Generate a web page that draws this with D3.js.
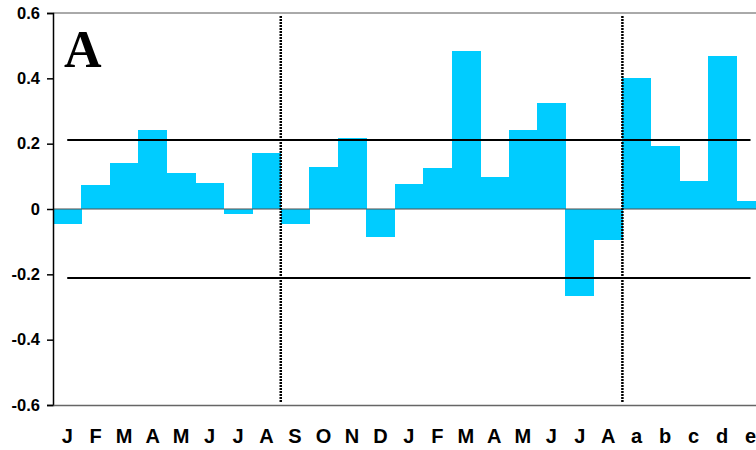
<!DOCTYPE html>
<html>
<head>
<meta charset="utf-8">
<script src="https://cdn.jsdelivr.net/npm/d3@7"></script>
<style>
  html, body { margin: 0; padding: 0; background: #fff; }
  svg { display: block; }
</style>
</head>
<body>
<svg id="chart" width="756" height="450"></svg>
<script>
// Monthly anomalies, three periods separated by dotted lines
const categories = ["J","F","M","A","M","J","J","A","S","O","N","D",
                    "J","F","M","A","M","J","J","A","a","b","c","d","e"];
const values = [-0.045, 0.074, 0.141, 0.242, 0.110, 0.080, -0.015, 0.171,
                -0.045, 0.129, 0.217, -0.085, 0.077, 0.126, 0.484, 0.098,
                0.242, 0.325, -0.265, -0.094, 0.401, 0.193, 0.086, 0.469, 0.025];
const yTicks = [-0.6, -0.4, -0.2, 0, 0.2, 0.4, 0.6];
const thresholds = [0.211, -0.211];
const dividers = [8, 20]; // category index where a new period starts
const panelLabel = "A";

const svg = d3.select("#chart");
const plotLeft = 53, plotTop = 13, plotBottom = 405;
const step = 28.47;
const plotRight = plotLeft + step * categories.length;

const x = d3.scaleBand()
  .domain(d3.range(categories.length))
  .range([plotLeft, plotRight])
  .paddingInner(0).paddingOuter(0);

const y = d3.scaleLinear().domain([-0.6, 0.6]).range([plotBottom, plotTop]);

// top frame line
svg.append("line")
  .attr("x1", plotLeft).attr("x2", plotRight)
  .attr("y1", plotTop).attr("y2", plotTop)
  .attr("stroke", "#555").attr("stroke-width", 1);

// bars
svg.append("g").attr("shape-rendering", "crispEdges").selectAll("rect")
  .data(values)
  .join("rect")
  .attr("x", (d, i) => x(i))
  .attr("width", x.bandwidth() + 0.5)
  .attr("y", d => y(Math.max(0, d)))
  .attr("height", d => Math.abs(y(d) - y(0)))
  .attr("fill", "#00ccff");

// zero line
svg.append("line")
  .attr("x1", plotLeft).attr("x2", plotRight)
  .attr("y1", y(0)).attr("y2", y(0))
  .attr("stroke", "#555").attr("stroke-opacity", 0.7).attr("stroke-width", 1.5);

// significance thresholds, centre of first to centre of last category
svg.append("g").selectAll("line")
  .data(thresholds)
  .join("line")
  .attr("x1", x(0) + x.bandwidth() / 2)
  .attr("x2", x(categories.length - 1) + x.bandwidth() / 2)
  .attr("y1", d => y(d)).attr("y2", d => y(d))
  .attr("stroke", "#000").attr("stroke-width", 2);

// period dividers
svg.append("g").selectAll("line")
  .data(dividers)
  .join("line")
  .attr("x1", d => x(d)).attr("x2", d => x(d))
  .attr("y1", plotTop + 3).attr("y2", plotBottom - 3)
  .attr("stroke", "#000").attr("stroke-width", 2.5)
  .attr("stroke-dasharray", "2,1");

// y axis
const yAxis = d3.axisLeft(y)
  .tickValues(yTicks)
  .tickSize(6)
  .tickFormat(d => d === 0 ? "0" : d.toFixed(1));
const gy = svg.append("g").attr("transform", `translate(${plotLeft},0)`).call(yAxis);
gy.select(".domain").attr("stroke", "#000").attr("stroke-width", 1.5);
gy.selectAll(".tick line").attr("stroke", "#000").attr("stroke-width", 1.5);
gy.selectAll(".tick text")
  .attr("x", -13)
  .attr("font-family", "Liberation Sans, Arial, sans-serif")
  .attr("font-weight", "bold")
  .attr("font-size", "16.5px")
  .attr("fill", "#000");

// x axis
const xAxis = d3.axisBottom(x).tickSize(0).tickFormat(i => categories[i]);
const gx = svg.append("g").attr("transform", `translate(0,${plotBottom})`).call(xAxis);
gx.select(".domain").attr("stroke", "#666").attr("stroke-width", 1.5);
gx.selectAll(".tick text")
  .attr("y", 24)
  .attr("font-family", "Liberation Sans, Arial, sans-serif")
  .attr("font-weight", "bold")
  .attr("font-size", "20px")
  .attr("fill", "#000");

// panel letter
svg.append("text")
  .attr("x", 64).attr("y", 67)
  .attr("font-family", "Liberation Serif, Times New Roman, serif")
  .attr("font-weight", "bold")
  .attr("font-size", "52px")
  .attr("fill", "#000")
  .text(panelLabel);
</script>
</body>
</html>
